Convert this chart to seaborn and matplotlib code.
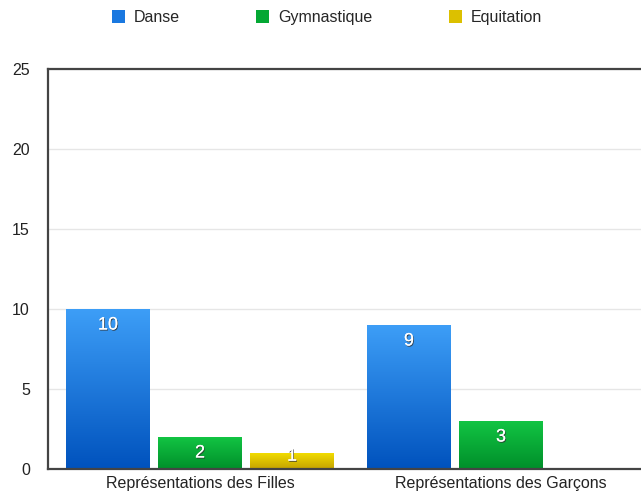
import matplotlib
matplotlib.use("Agg")
import matplotlib.pyplot as plt
import seaborn as sns
import numpy as np
import pandas as pd
from matplotlib.patches import Patch
from matplotlib.colors import LinearSegmentedColormap
import matplotlib.patheffects as pe

categories = ["Représentations des Filles", "Représentations des Garçons"]
series = ["Danse", "Gymnastique", "Equitation"]
danse = [10, 9]
gymnastique = [2, 3]
equitation = [1, 0]

top_colors = ["#3d9ef7", "#12c443", "#f2dc00"]
bot_colors = ["#0052bd", "#008f2a", "#c4a300"]
mid_colors = ["#1a78e0", "#04a834", "#dcc000"]

rows = []
for s, vals in zip(series, [danse, gymnastique, equitation]):
    for c, v in zip(categories, vals):
        rows.append({"cat": c, "serie": s, "val": v})
df = pd.DataFrame(rows)

sns.set_theme(style="white")
plt.rcParams["font.family"] = ["Liberation Sans", "DejaVu Sans"]

fig = plt.figure(figsize=(6.41, 4.98), dpi=100)
W, H = 641, 498
left, right, top, bottom = 48, 653, 69, 469
ax = fig.add_axes([left / W, 1 - bottom / H, (right - left) / W, (bottom - top) / H])

sns.barplot(data=df, x="cat", y="val", hue="serie", hue_order=series,
            palette=mid_colors, width=0.917, gap=0.087, ax=ax, legend=False,
            saturation=1)

ax.set_ylim(0, 25)
ax.set_xlim(-0.505, 1.505)
ax.set_yticks([0, 5, 10, 15, 20, 25])
ax.yaxis.grid(True, color="#e6e6e6", linewidth=1)
ax.set_axisbelow(True)
ax.set_xlabel("")
ax.set_ylabel("")
ax.tick_params(axis="both", length=0, labelsize=11.5, colors="#222222")
ax.tick_params(axis="y", pad=13)
ax.tick_params(axis="x", pad=5)
for sp in ["left", "bottom", "top"]:
    ax.spines[sp].set_color("#444444")
    ax.spines[sp].set_linewidth(1.6)
ax.spines["right"].set_visible(False)

# gradient fill of bars
n_cat = len(categories)
for i, patch in enumerate(ax.patches):
    si = i // n_cat
    h = patch.get_height()
    if h <= 0:
        patch.set_visible(False)
        continue
    x0 = patch.get_x()
    w = patch.get_width()
    cmap = LinearSegmentedColormap.from_list("g", [bot_colors[si], top_colors[si]])
    grad = np.linspace(0, 1, 256).reshape(-1, 1)
    im = ax.imshow(grad, cmap=cmap, aspect="auto", origin="lower",
                   extent=[x0, x0 + w, 0, h], zorder=2)
    im.set_clip_path(patch)
    patch.set_facecolor("none")
    patch.set_edgecolor("none")
    ax.text(x0 + w / 2, max(h - 1.0, 0.8), f"{h:g}", ha="center", va="center",
            color="white", fontsize=13, zorder=5,
            path_effects=[pe.withSimplePatchShadow(offset=(0.6, -0.8), shadow_rgbFace="#333333", alpha=0.8), pe.Normal()])

ax.set_xlim(-0.505, 1.505)
ax.set_ylim(0, 25)

handles = [Patch(facecolor=c, edgecolor="none") for c in mid_colors]
fig.legend(handles, series, loc="center", bbox_to_anchor=(327 / W, 1 - 17.5 / H),
           ncol=3, frameon=False, fontsize=11.5, handlelength=0.8, handleheight=0.8,
           columnspacing=4.8, handletextpad=0.56)

fig.savefig("out.png", dpi=100)
